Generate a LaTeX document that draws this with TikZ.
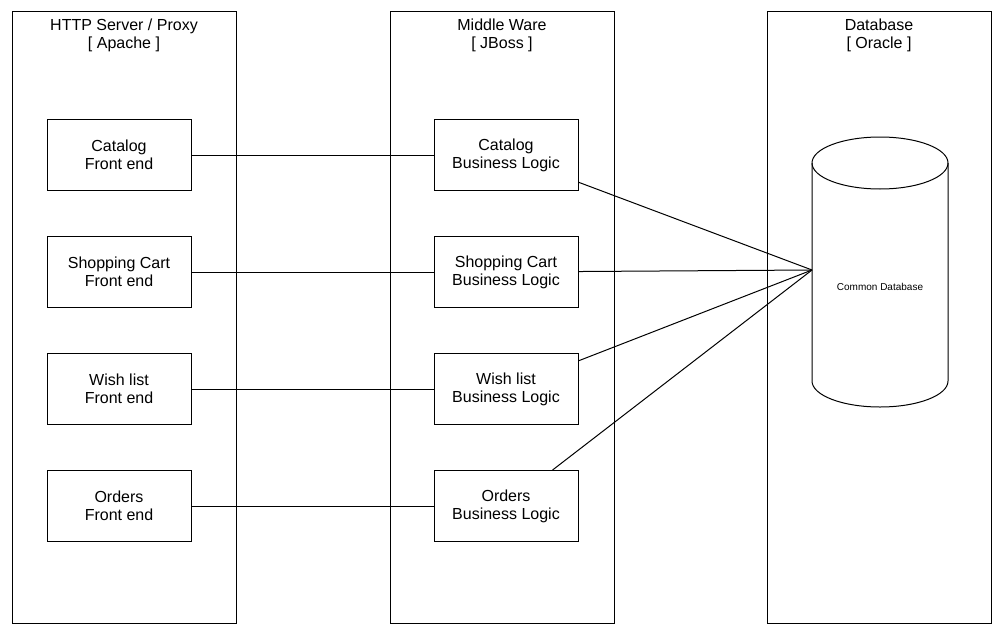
\documentclass[tikz,border=0pt]{standalone}
\usepackage{fontspec}
\setmainfont{Liberation Sans}
\usepackage{tikz}
\tikzstyle{tier}=[rectangle, draw, minimum width=224pt, minimum height=611pt, inner sep=0pt]
\tikzstyle{module}=[rectangle, draw, fill=white, minimum width=144pt, minimum height=71pt, inner sep=0pt, align=center, font=\fontsize{16}{18}\selectfont]
\tikzstyle{heading}=[inner sep=0pt, align=center, font=\fontsize{16}{18}\selectfont]
\newcommand{\module}{\node[module]}

\begin{document}
\begin{tikzpicture}[x=1pt, y=-1pt, line width=1pt]
\useasboundingbox (0,0) rectangle (1003,634);

% tiers
\node[tier] (web) at (124,317.5) {};
    \node[tier] (mid) at (502,317.5) {};
    \node[tier] (data) at (879,317.5) {};
    \node[heading] (webtitle) at (124,35.5) {HTTP Server / Proxy\\{[} Apache ]};
    \node[heading] (midtitle) at (502,35.5) {Middle Ware\\{[} JBoss ]};
    \node[heading] (datatitle) at (879,35.5) {Database\\{[} Oracle ]};

% front ends
\module (cf) at (119,155) {Catalog\\Front end};
    \module (sf) at (119,272) {Shopping Cart\\Front end};
    \module (wf) at (119,389) {Wish list\\Front end};
    \module (of) at (119,506) {Orders\\Front end};

% business logic
\module (cb) at (506,155) {Catalog\\Business Logic};
    \module (sb) at (506,272) {Shopping Cart\\Business Logic};
    \module (wb) at (506,389) {Wish list\\Business Logic};
    \module (ob) at (506,506) {Orders\\Business Logic};

% database
\draw (812,163) -- (812,381) arc[start angle=180, end angle=0, x radius=68, y radius=26] -- (948,163);
    \draw (880,163) ellipse [x radius=68, y radius=26];
    \node[font=\fontsize{10}{12}\selectfont] (db) at (880,286.5) {Common Database};
    \coordinate (hub) at (812,270);

    \path[-]
    (cf) edge (cb)
    (sf) edge (sb)
    (wf) edge (wb)
    (of) edge (ob)
    (cb) edge (hub)
    (sb) edge (hub)
    (wb) edge (hub)
    (ob) edge (hub)
    ;
\end{tikzpicture}
\end{document}
